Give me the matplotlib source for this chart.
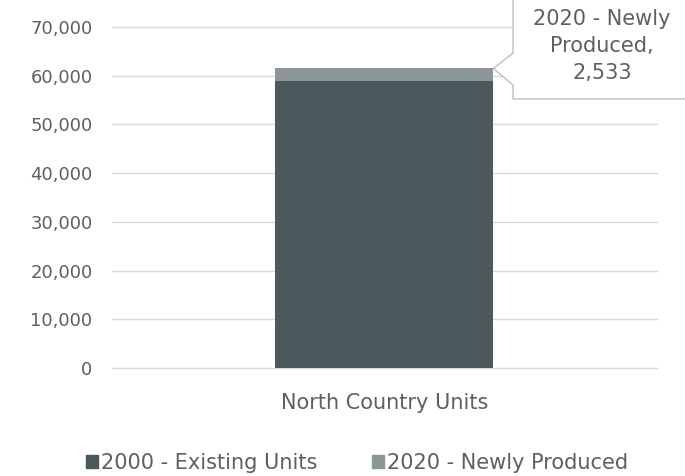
import matplotlib.pyplot as plt
from matplotlib.patches import Polygon, Patch
from matplotlib.ticker import FuncFormatter

# data
categories = ["North Country Units"]
existing_units = [58950]
newly_produced = [2533]
series_names = ["2000 - Existing Units", "2020 - Newly Produced"]
y_ticks = [0, 10000, 20000, 30000, 40000, 50000, 60000, 70000]

plt.rcParams['font.family'] = ['DejaVu Sans']
text_color = '#5f5f5f'
existing_color = '#4b585c'
newly_color = '#8c9597'

fig = plt.figure(figsize=(6.85, 4.76), dpi=100)
ax = fig.add_axes([0.1635, 0.2269, 0.7955, 0.7164])

x = range(len(categories))
bar_w = 0.4
ax.bar(x, existing_units, width=bar_w, color=existing_color, zorder=3)
ax.bar(x, newly_produced, width=bar_w, bottom=existing_units, color=newly_color, zorder=3)

ax.set_xlim(-0.5, 0.5)
ax.set_ylim(0, 70000)
ax.set_yticks(y_ticks)
ax.yaxis.set_major_formatter(FuncFormatter(lambda v, p: f"{int(v):,}"))
ax.set_xticks(list(x))
ax.set_xticklabels(categories, fontsize=15)
ax.grid(axis='y', color='#d9d9d9', linewidth=1, zorder=0)
for gl in ax.get_ygridlines():
    gl.set_clip_on(False)
for s in ax.spines.values():
    s.set_visible(False)
ax.tick_params(axis='both', length=0, colors=text_color)
ax.tick_params(axis='y', pad=14, labelsize=13)
ax.tick_params(axis='x', pad=18)

# callout for the newly produced segment, drawn in pixel space
fig.canvas.draw()
H = 476
tip = ax.transData.transform((bar_w / 2, existing_units[0] + newly_produced[0]))
tip = fig.dpi_scale_trans.inverted().transform(tip) * 100
box_l, box_r, box_t, box_b = 513, 690, -5, 99
pts = [(box_l, box_t), (box_r, box_t), (box_r, box_b), (box_l, box_b),
       (box_l, 85), (tip[0], H - tip[1]), (box_l, 53)]
pts = [(px / 685, (H - py) / H) for px, py in pts]
fig.patches.append(Polygon(pts, closed=True, transform=fig.transFigure,
                           facecolor='white', edgecolor='#bfbfbf', linewidth=1, zorder=5))
fig.text(602 / 685, (H - 46) / H,
         f"{series_names[1].replace(' Produced', '')}\nProduced,\n{newly_produced[0]:,}",
         ha='center', va='center', fontsize=15, color=text_color,
         linespacing=1.45, zorder=6)

handles = [Patch(color=existing_color), Patch(color=newly_color)]
fig.legend(handles, series_names, loc='center', bbox_to_anchor=(357 / 685, (H - 463) / H),
           ncol=2, frameon=False, fontsize=15, labelcolor=text_color,
           handlelength=0.6, handleheight=0.6, handletextpad=0.15, columnspacing=2.6)

fig.savefig('out.png', dpi=100)
